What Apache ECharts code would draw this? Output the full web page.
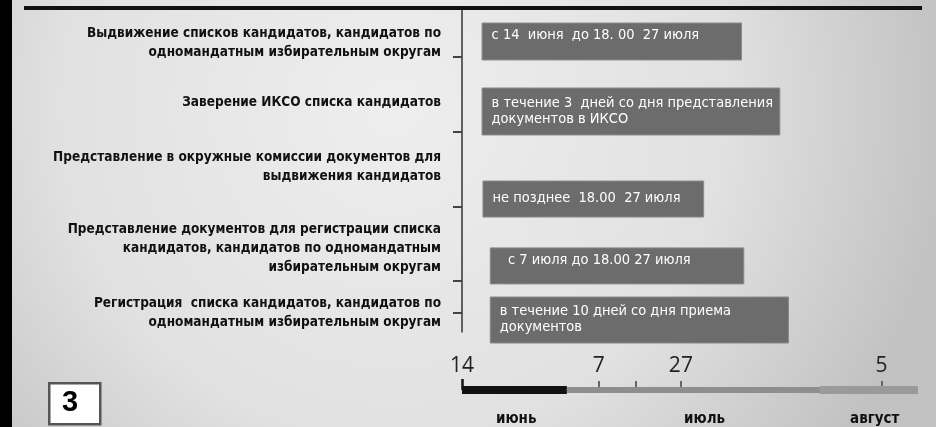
<!DOCTYPE html>
<html><head><meta charset="utf-8">
<script src="https://cdn.jsdelivr.net/npm/echarts@6/dist/echarts.min.js"></script>
<style>html,body{margin:0;padding:0;background:#ddd}#c{width:936px;height:427px}</style>
</head><body><div id="c"></div>
<script>
// ---- data ----
const categories = [
  'Выдвижение списков кандидатов, кандидатов по\nодномандатным избирательным округам',
  'Заверение ИКСО списка кандидатов',
  'Представление в окружные комиссии документов для\nвыдвижения кандидатов',
  'Представление документов для регистрации списка\nкандидатов, кандидатов по одномандатным\nизбирательным округам',
  'Регистрация  списка кандидатов, кандидатов по\nодномандатным избирательным округам'
];
const barTexts = [
  'с 14  июня  до 18. 00  27 июля',
  'в течение 3  дней со дня представления\nдокументов в ИКСО',
  'не позднее  18.00  27 июля',
  '  с 7 июля до 18.00 27 июля',
  'в течение 10 дней со дня приема\nдокументов'
];
// timeline positions (0 = 14 June, 100 = end of scale)
const barStart = [4.4, 4.4, 4.6, 6.2, 6.2];
const barEnd = [61.3, 69.7, 53.0, 61.8, 71.6];
const tickValues = [0, 30, 38.2, 48, 92];
const tickLabels = ['14', '7', '', '27', '5'];
const months = ['июнь', 'июль', 'август'];
const monthStart = [0, 23, 78.5];
const monthEnd = [23, 78.5, 100];
const monthLabelAt = [11.9, 53.2, 90.5];

// ---- layout (row units along the vertical axis) ----
const rowCenter = [0.517, 1.597, 2.948, 3.98, 4.815];
const rowHeight = [0.57, 0.725, 0.556, 0.556, 0.71];
const rowTextTop = [true, false, false, true, false];
const rowTicks = [0.756, 1.914, 3.07, 4.21, 4.71];
const labelCenter = [0.54, 1.466, 2.46, 3.71, 4.71];

const NARROW = '"Liberation Sans Narrow","DejaVu Sans Condensed","Roboto Condensed",sans-serif';

function nearestIdx(arr, v) {
  let b = 0;
  for (let i = 1; i < arr.length; i++) if (Math.abs(arr[i] - v) < Math.abs(arr[b] - v)) b = i;
  return b;
}

const chart = echarts.init(document.getElementById('c'), null, {renderer: 'canvas'});
const monthColors = ['#111111', '#8e8e8e', '#9a9a9a'];
const monthWidths = [8, 6, 8];

const option = {
  animation: false,
  backgroundColor: {
    type: 'radial', x: 0.42, y: 0.25, r: 1.3,
    colorStops: [
      {offset: 0, color: '#eeeeee'},
      {offset: 0.6, color: '#e1e1e1'},
      {offset: 1, color: '#c2c2c2'}
    ]
  },
  grid: [
    {left: 462, right: 18, top: 8, height: 324},
    {left: 462, right: 18, top: 350, height: 40}
  ],
  xAxis: [
    {gridIndex: 0, type: 'value', min: 0, max: 100, show: false},
    {gridIndex: 1, type: 'value', min: 0, max: 100, position: 'bottom',
      axisLine: {show: false, onZero: false}, splitLine: {show: false},
      axisTick: {show: true, customValues: tickValues.slice(1), inside: true, length: 9,
        lineStyle: {color: '#666', width: 2}},
      axisLabel: {show: true, customValues: tickValues.filter((v, i) => tickLabels[i] !== ''),
        inside: true, margin: 13, color: '#222', fontSize: 21, fontFamily: '"Open Sans",sans-serif',
        formatter: v => tickLabels[nearestIdx(tickValues, v)]}},
    {gridIndex: 1, type: 'value', min: 0, max: 100, position: 'bottom', offset: 0,
      axisLine: {show: false, onZero: false}, splitLine: {show: false},
      axisTick: {show: true, customValues: [tickValues[0]], inside: true, length: 11,
        lineStyle: {color: '#111', width: 2.5}},
      axisLabel: {show: false}},
    {gridIndex: 1, type: 'value', min: 0, max: 100, position: 'bottom', offset: 0,
      axisLine: {show: false, onZero: false}, splitLine: {show: false}, axisTick: {show: false},
      axisLabel: {show: true, customValues: monthLabelAt, margin: 22, color: '#111',
        fontSize: 15, fontWeight: 'bold', fontFamily: NARROW,
        formatter: v => months[nearestIdx(monthLabelAt, v)]}}
  ],
  yAxis: [
    {gridIndex: 0, type: 'value', min: 0, max: 5, inverse: true,
      splitLine: {show: false},
      axisLine: {show: true, lineStyle: {color: '#333', width: 1.5}},
      axisTick: {show: true, customValues: rowTicks, length: 9, lineStyle: {color: '#444', width: 2}},
      axisLabel: {show: true, customValues: labelCenter, margin: 21, color: '#111',
        fontSize: 13.5, fontWeight: 'bold', fontFamily: NARROW, lineHeight: 19, align: 'right',
        formatter: v => categories[nearestIdx(labelCenter, v)]}},
    {gridIndex: 1, type: 'value', min: 0, max: 1, show: false}
  ],
  graphic: [
    {type: 'rect', left: 0, top: 0, shape: {width: 12, height: 427}, style: {fill: '#000'}, z: 100},
    {type: 'rect', left: 24, top: 6, shape: {width: 898, height: 4}, style: {fill: '#111'}, z: 100},
    {type: 'rect', left: 48, top: 382, shape: {width: 51, height: 41},
      style: {fill: '#fff', stroke: '#555', lineWidth: 2.5}, z: 100},
    {type: 'text', left: 62, top: 388, style: {text: '3', font: 'bold 29px "Liberation Sans",Arial,sans-serif', fill: '#000'}, z: 101}
  ],
  series: [
    {
      type: 'custom', xAxisIndex: 0, yAxisIndex: 0, clip: false,
      data: barStart.map((s, i) => [s, barEnd[i], rowCenter[i], rowHeight[i]]),
      renderItem: function (params, api) {
        const i = params.dataIndex;
        const a = api.coord([api.value(0), api.value(2)]);
        const b = api.coord([api.value(1), api.value(2)]);
        const h = api.size([0, api.value(3)])[1];
        const top = rowTextTop[i];
        return {
          type: 'rect',
          shape: {x: a[0], y: a[1] - h / 2, width: b[0] - a[0], height: h},
          style: {fill: '#6c6c6c', stroke: '#8a8a8a', lineWidth: 1},
          textContent: {
            style: {text: barTexts[i], fill: '#fff', fontSize: 14.5, fontFamily: NARROW,
              lineHeight: 16, align: 'left', verticalAlign: top ? 'top' : 'middle'}
          },
          textConfig: {position: [10, top ? 5 : h / 2], inside: true}
        };
      }
    }
  ].concat(months.map((m, i) => ({
    type: 'line', xAxisIndex: 1, yAxisIndex: 1, clip: false, symbol: 'none', silent: true,
    lineStyle: {color: monthColors[i], width: monthWidths[i], cap: 'butt'},
    data: [[monthStart[i], 0], [monthEnd[i], 0]]
  })))
};
chart.setOption(option);
</script></body></html>
